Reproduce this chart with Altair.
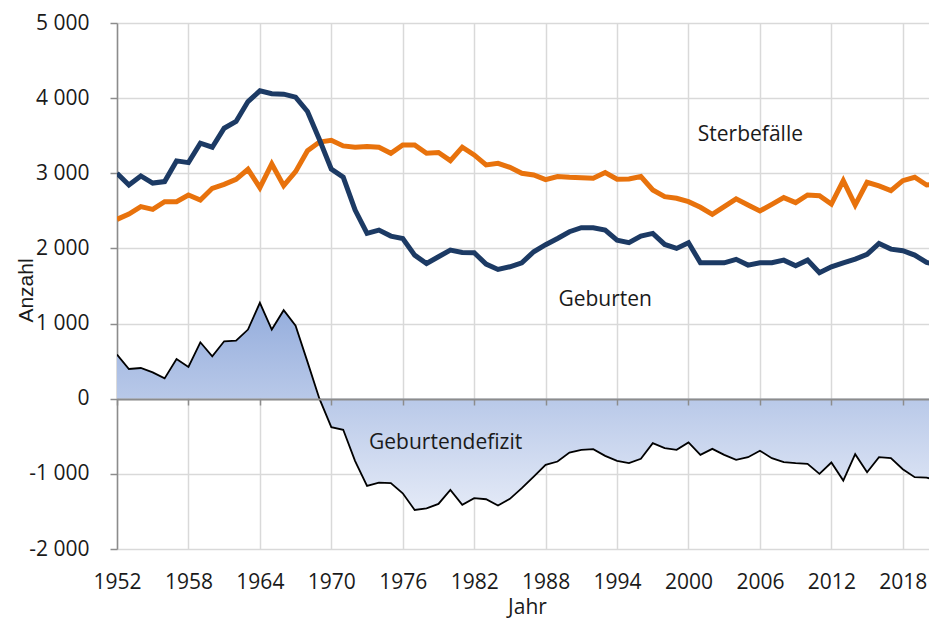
import altair as alt
import pandas as pd

years = list(range(1952, 2022))
geburten = [3000, 2845, 2965, 2870, 2890, 3165, 3142, 3400, 3347, 3600,
            3689, 3955, 4098, 4058, 4053, 4013, 3822, 3450, 3055, 2950,
            2511, 2200, 2244, 2164, 2133, 1911, 1800, 1889, 1978, 1947,
            1942, 1791, 1720, 1756, 1809, 1956, 2050, 2133, 2222, 2276,
            2276, 2244, 2111, 2076, 2164, 2200, 2053, 2000, 2076, 1809,
            1809, 1809, 1855, 1778, 1809, 1809, 1844, 1769, 1844, 1676,
            1756, 1809, 1858, 1920, 2067, 1991, 1969, 1911, 1813, 1778]
sterbefaelle = [2387, 2458, 2556, 2520, 2622, 2622, 2711, 2644, 2800, 2853,
                2920, 3053, 2809, 3124, 2836, 3022, 3300, 3415, 3440, 3364,
                3347, 3356, 3347, 3267, 3378, 3378, 3267, 3276, 3169, 3347,
                3244, 3111, 3133, 3080, 3000, 2978, 2915, 2956, 2947, 2942,
                2933, 3009, 2920, 2924, 2956, 2778, 2689, 2667, 2622, 2547,
                2453, 2556, 2660, 2578, 2498, 2587, 2676, 2609, 2711, 2702,
                2591, 2902, 2578, 2880, 2831, 2769, 2902, 2947, 2844, 2867]
defizit = [587, 396, 409, 351, 271, 529, 422, 751, 564, 764,
           773, 920, 1276, 920, 1178, 973, 490, 0, -378, -413,
           -830, -1160, -1116, -1124, -1258, -1480, -1458, -1400, -1213, -1413,
           -1324, -1338, -1422, -1333, -1191, -1036, -880, -836, -716, -680,
           -671, -760, -827, -858, -800, -591, -658, -680, -582, -747,
           -667, -747, -813, -778, -693, -791, -844, -858, -867, -1000,
           -849, -1089, -738, -978, -778, -791, -938, -1044, -1049, -1095]

tick_years = list(range(1952, 2019, 6))
y_ticks = list(range(-2000, 5001, 1000))

label_texts = ["Sterbefälle", "Geburten", "Geburtendefizit"]
label_x = [2005.2, 1993.0, 1979.6]
label_y = [3513, 1318, -586]

df = pd.DataFrame({"Jahr": years, "Geburten": geburten,
                   "Sterbefaelle": sterbefaelle, "Defizit": defizit})
lab_df = pd.DataFrame({"t": label_texts, "x": label_x, "y": label_y})

xscale = alt.Scale(domain=[1952, 2020.2], nice=False, zero=False)
yscale = alt.Scale(domain=[-2000, 5000], nice=False)

GRID = "#d9d9d9"
AXC = "#8c8c8c"
TXT = "#1a1a1a"
FS = 21

grid_x_axis = alt.Axis(values=tick_years, orient="bottom", grid=True, gridColor=GRID,
                       gridWidth=1.5, domain=False, ticks=False, labels=False, title=None)
zero_x_axis = alt.Axis(values=tick_years, orient="bottom", offset=-150, grid=False,
                       domain=True, domainColor=AXC, domainWidth=1.8,
                       ticks=True, tickColor=AXC, tickWidth=1.5, tickSize=6,
                       labels=False, title=None, zindex=2)
label_x_axis = alt.Axis(values=tick_years, orient="bottom", grid=False, domain=False,
                        ticks=False, tickSize=0, labels=True, labelFont="Open Sans",
                        labelFontSize=FS, labelColor=TXT, labelPadding=22,
                        labelFlush=False, labelOverlap=False, format="d",
                        title="Jahr", titleFont="Open Sans", titleFontSize=FS,
                        titleFontWeight="normal", titleColor=TXT,
                        titleX=410, titleY=47)

y_axis = alt.Axis(values=y_ticks, orient="left", grid=True, gridColor=GRID, gridWidth=1.5,
                  domain=True, domainColor=AXC, domainWidth=1.5,
                  ticks=True, tickColor=AXC, tickWidth=1.5, tickSize=7,
                  labelFont="Open Sans", labelFontSize=FS, labelColor=TXT, labelPadding=21,
                  labelExpr="(datum.value < 0 ? '-' : '') + replace(format(abs(datum.value), ','), ',', ' ')",
                  title="Anzahl", titleFont="Liberation Sans", titleFontSize=FS,
                  titleFontWeight="normal", titleColor=TXT, titleX=-81, titleY=267)

base = alt.Chart(df)

area = base.mark_area(
    clip=True,
    color=alt.Gradient(gradient="linear",
                       stops=[alt.GradientStop(color="#93acdc", offset=0),
                              alt.GradientStop(color="#e4eaf7", offset=1)],
                       x1=0, x2=0, y1=0, y2=1)
).encode(
    x=alt.X("Jahr:Q", scale=xscale, axis=grid_x_axis),
    y=alt.Y("Defizit:Q", scale=yscale, axis=y_axis),
)

black = base.mark_line(color="#000000", strokeWidth=1.8, clip=True).encode(
    x=alt.X("Jahr:Q", scale=xscale, axis=zero_x_axis),
    y=alt.Y("Defizit:Q", scale=yscale, axis=None),
)

orange = base.mark_line(color="#e8720c", strokeWidth=5, clip=True).encode(
    x=alt.X("Jahr:Q", scale=xscale, axis=label_x_axis),
    y=alt.Y("Sterbefaelle:Q", scale=yscale, axis=None),
)

blue = base.mark_line(color="#1c3a64", strokeWidth=5, clip=True).encode(
    x=alt.X("Jahr:Q", scale=xscale, axis=None),
    y=alt.Y("Geburten:Q", scale=yscale, axis=None),
)

texts = alt.Chart(lab_df).mark_text(font="Open Sans", fontSize=FS, color=TXT,
                                    align="center", baseline="middle").encode(
    x=alt.X("x:Q", scale=xscale, axis=None),
    y=alt.Y("y:Q", scale=yscale, axis=None),
    text="t:N",
)

chart = alt.layer(area, black, orange, blue, texts).resolve_axis(
    x="independent", y="independent"
).properties(
    width=812, height=526,
    autosize=alt.AutoSizeParams(type="none"),
    padding={"left": 109, "top": 15, "right": 0, "bottom": 70},
    background="white",
).configure_view(stroke=None)

chart.save("out.html", embed_options={"renderer": "svg", "actions": False})
